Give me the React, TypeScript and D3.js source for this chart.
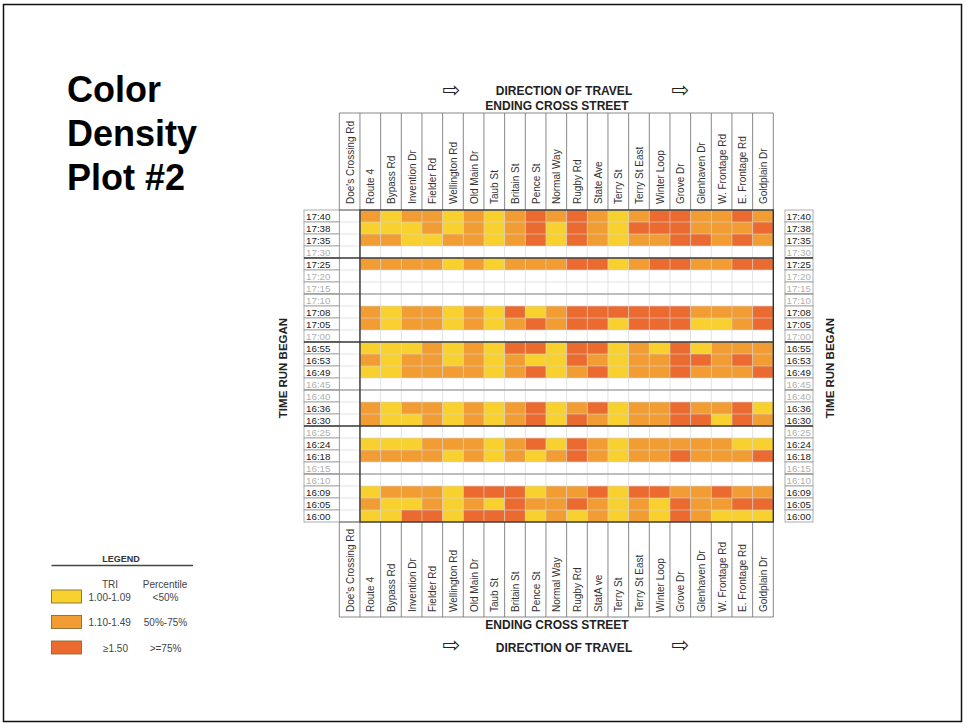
import React from "react";
import * as d3 from "d3";

// ---------- DATA ----------
const streets = [
  "Doe's Crossing Rd", "Route 4", "Bypass Rd", "Invention Dr", "Fielder Rd",
  "Wellington Rd", "Old Main Dr", "Taub St", "Britain St", "Pence St",
  "Normal Way", "Rugby Rd", "State Ave", "Terry St", "Terry St East",
  "Winter Loop", "Grove Dr", "Glenhaven Dr", "W. Frontage Rd",
  "E. Frontage Rd", "Goldplain Dr",
];
const bottomStreets = [
  "Doe's Crossing Rd", "Route 4", "Bypass Rd", "Invention Dr", "Fielder Rd",
  "Wellington Rd", "Old Main Dr", "Taub St", "Britain St", "Pence St",
  "Normal Way", "Rugby Rd", "StatA ve", "Terry St", "Terry St East",
  "Winter Loop", "Grove Dr", "Glenhaven Dr", "W. Frontage Rd",
  "E. Frontage Rd", "Goldplain Dr",
];
const times = [
  "17:40", "17:38", "17:35", "17:30", "17:25", "17:20", "17:15", "17:10",
  "17:08", "17:05", "17:00", "16:55", "16:53", "16:49", "16:45", "16:40",
  "16:36", "16:30", "16:25", "16:24", "16:18", "16:15", "16:10", "16:09",
  "16:05", "16:00",
];
// TRI class per segment (Route 4 .. Goldplain Dr): 1 = 1.00-1.09, 2 = 1.10-1.49, 3 = >=1.50
const tri1740 = [2, 1, 2, 2, 1, 2, 1, 2, 3, 2, 3, 2, 1, 2, 3, 3, 2, 2, 3, 2];
const tri1738 = [1, 1, 1, 2, 1, 2, 1, 2, 3, 1, 3, 2, 1, 3, 3, 3, 2, 2, 2, 3];
const tri1735 = [2, 2, 1, 1, 2, 2, 1, 2, 3, 1, 3, 2, 1, 2, 2, 3, 3, 2, 3, 2];
const tri1725 = [2, 2, 2, 2, 1, 2, 1, 2, 2, 2, 3, 3, 1, 2, 3, 3, 2, 2, 3, 3];
const tri1708 = [2, 1, 2, 2, 1, 2, 1, 3, 1, 2, 3, 3, 3, 3, 3, 3, 2, 2, 2, 3];
const tri1705 = [2, 1, 2, 2, 1, 2, 1, 2, 3, 2, 3, 3, 1, 3, 3, 3, 1, 1, 2, 3];
const tri1655 = [1, 1, 1, 2, 1, 2, 1, 3, 3, 1, 3, 3, 1, 2, 1, 3, 1, 2, 2, 2];
const tri1653 = [2, 1, 2, 2, 1, 2, 1, 2, 1, 1, 3, 2, 1, 2, 2, 3, 3, 2, 3, 2];
const tri1649 = [1, 1, 2, 2, 2, 2, 1, 2, 3, 1, 2, 3, 1, 2, 2, 3, 2, 2, 2, 3];
const tri1636 = [2, 1, 2, 2, 1, 2, 1, 2, 3, 1, 2, 3, 1, 2, 2, 3, 2, 2, 3, 1];
const tri1630 = [2, 1, 1, 2, 1, 2, 1, 2, 3, 1, 3, 2, 1, 2, 2, 3, 3, 1, 3, 2];
const tri1624 = [1, 1, 1, 2, 2, 2, 1, 2, 3, 1, 3, 2, 1, 2, 2, 2, 2, 2, 1, 1];
const tri1618 = [2, 2, 2, 2, 1, 2, 1, 2, 1, 2, 3, 2, 1, 2, 2, 3, 2, 2, 2, 3];
const tri1609 = [1, 2, 2, 2, 1, 3, 3, 3, 1, 2, 2, 3, 1, 3, 3, 2, 2, 3, 2, 2];
const tri1605 = [2, 1, 1, 2, 1, 2, 1, 3, 2, 2, 3, 2, 1, 2, 1, 3, 2, 2, 3, 3];
const tri1600 = [1, 1, 3, 3, 1, 3, 3, 3, 1, 2, 1, 2, 1, 2, 1, 3, 2, 1, 1, 1];

const runs: [string, number[]][] = [
  ["17:40", tri1740], ["17:38", tri1738], ["17:35", tri1735], ["17:25", tri1725],
  ["17:08", tri1708], ["17:05", tri1705], ["16:55", tri1655], ["16:53", tri1653],
  ["16:49", tri1649], ["16:36", tri1636], ["16:30", tri1630], ["16:24", tri1624],
  ["16:18", tri1618], ["16:09", tri1609], ["16:05", tri1605], ["16:00", tri1600],
];

const legendClasses = [1, 2, 3];
const legendTRI = ["1.00-1.09", "1.10-1.49", "\u22651.50"];
const legendPct = ["<50%", "50%-75%", ">=75%"];
const classColors = ["#F9D12E", "#F29D33", "#EB6A2F"];

const FONT = "'Liberation Sans', Arial, Helvetica, sans-serif";

export default function App() {
  const x = d3.scaleBand<string>().domain(streets).range([339.3, 773.3]);
  const y = d3.scaleBand<string>().domain(times).range([210, 522]);
  const color = d3.scaleOrdinal<number, string>().domain(legendClasses).range(classColors);
  const cw = x.bandwidth();
  const rh = y.bandwidth();
  const activeSet = new Set(runs.map((r) => r[0]));
  const gL = x.range()[0];
  const gR = x.range()[1];
  const dataL = x(streets[1])!;
  const colEdges = streets.map((s) => x(s)!).concat([gR]);
  const rowEdges = times.map((t) => y(t)!).concat([y.range()[1]]);
  const darkAfter = ["17:30", "17:00", "16:30"];
  const medAfter = ["17:15", "16:45", "16:15"];

  const lBoxL = 304, lBoxR = gL;
  const rBoxL = 785, rBoxR = 813;

  return (
    <svg
      width={965}
      height={725}
      style={{ position: "absolute", left: 0, top: 0, display: "block", background: "#fff" }}
      fontFamily={FONT}
    >
      <rect x={3.5} y={4.5} width={958} height={717} fill="#fff" stroke="#111" strokeWidth={1.5} />

      {/* Title */}
      <g fontSize={36} fontWeight="bold" fill="#000">
        <text x={67} y={102}>Color</text>
        <text x={67} y={146}>Density</text>
        <text x={67} y={190}>Plot #2</text>
      </g>

      {/* Top headings */}
      <g fontWeight="bold" fill="#222" textAnchor="middle" fontSize={12}>
        <text x={564} y={94.5}>DIRECTION OF TRAVEL</text>
        <text x={557} y={110}>ENDING CROSS STREET</text>
        <text x={557} y={629}>ENDING CROSS STREET</text>
        <text x={564} y={651.5}>DIRECTION OF TRAVEL</text>
      </g>
      <g fontFamily="'DejaVu Sans', sans-serif" fontSize={21} fill="#222" textAnchor="middle">
        <text x={451} y={97}>{"\u21E8"}</text>
        <text x={680} y={97}>{"\u21E8"}</text>
        <text x={451} y={652}>{"\u21E8"}</text>
        <text x={680} y={652}>{"\u21E8"}</text>
      </g>

      {/* Header & footer column boxes */}
      <g stroke="#7a7a7a" strokeWidth={0.9}>
        {colEdges.map((cx, i) => (
          <line key={"ht" + i} x1={cx} x2={cx} y1={113} y2={210} />
        ))}
        <line x1={gL} x2={gR} y1={113} y2={113} />
        {colEdges.map((cx, i) => (
          <line key={"hb" + i} x1={cx} x2={cx} y1={522} y2={617} />
        ))}
        <line x1={gL} x2={gR} y1={617} y2={617} />
      </g>
      <g fontSize={10} fill="#333">
        {streets.map((s) => (
          <text key={"tl" + s} transform={`translate(${x(s)! + cw / 2 + 4},204) rotate(-90)`}>{s}</text>
        ))}
        {bottomStreets.map((s, i) => (
          <text key={"bl" + i} transform={`translate(${x(streets[i])! + cw / 2 + 4},612) rotate(-90)`}>{s}</text>
        ))}
      </g>

      {/* Cells */}
      <g>
        {runs.map(([t, vals]) =>
          vals.map((v, i) => (
            <rect
              key={t + "-" + i}
              x={x(streets[i + 1])!}
              y={y(t)!}
              width={cw}
              height={rh}
              fill={color(v)}
            />
          ))
        )}
      </g>

      {/* Grid lines */}
      <g stroke="#d4d4d4" strokeWidth={0.7} opacity={0.9}>
        {colEdges.map((cx, i) => (
          <line key={"gv" + i} x1={cx} x2={cx} y1={210} y2={522} />
        ))}
        {rowEdges.map((ry, i) => (
          <line key={"gh" + i} x1={gL} x2={gR} y1={ry} y2={ry} />
        ))}
      </g>
      <line x1={gL} x2={gL} y1={210} y2={522} stroke="#888" strokeWidth={0.9} />

      {/* Row label boxes */}
      <g>
        {times.map((t) => {
          const active = activeSet.has(t);
          return (
            <g key={"rl" + t}>
              <rect x={lBoxL} y={y(t)!} width={lBoxR - lBoxL} height={rh} fill="#fff" stroke="#9a9a9a" strokeWidth={0.8} />
              <rect x={rBoxL} y={y(t)!} width={rBoxR - rBoxL} height={rh} fill="#fff" stroke="#9a9a9a" strokeWidth={0.8} />
              <text x={lBoxL + 2} y={y(t)! + rh / 2 + 3.5} fontSize={9.8} fill={active ? "#222" : "#b0b0b0"}>{t}</text>
              <text x={rBoxR - 2} y={y(t)! + rh / 2 + 3.5} fontSize={9.8} textAnchor="end" fill={active ? "#222" : "#b0b0b0"}>{t}</text>
            </g>
          );
        })}
      </g>

      {/* Separator lines */}
      {medAfter.map((t) => {
        const yy = y(t)! + rh;
        return (
          <g key={"m" + t} stroke="#8a8a8a" strokeWidth={1}>
            <line x1={lBoxL} x2={gR} y1={yy} y2={yy} />
            <line x1={rBoxL} x2={rBoxR} y1={yy} y2={yy} />
          </g>
        );
      })}
      {darkAfter.map((t) => {
        const yy = y(t)! + rh;
        return (
          <g key={"d" + t} stroke="#3a3a3a" strokeWidth={1.5}>
            <line x1={lBoxL} x2={gR} y1={yy} y2={yy} />
            <line x1={rBoxL} x2={rBoxR} y1={yy} y2={yy} />
          </g>
        );
      })}
      <rect x={dataL} y={210} width={gR - dataL} height={312} fill="none" stroke="#333" strokeWidth={1.4} />
      <line x1={gL} x2={dataL} y1={210} y2={210} stroke="#555" strokeWidth={1} />
      <line x1={gL} x2={dataL} y1={522} y2={522} stroke="#555" strokeWidth={1} />

      {/* Side titles */}
      <g fontWeight="bold" fontSize={11.5} fill="#222" textAnchor="middle">
        <text transform="translate(287,368) rotate(-90)">TIME RUN BEGAN</text>
        <text transform="translate(834,368) rotate(-90)">TIME RUN BEGAN</text>
      </g>

      {/* Legend */}
      <g>
        <text x={121} y={562} fontSize={9} fontWeight="bold" fill="#333" textAnchor="middle">LEGEND</text>
        <line x1={51.5} x2={193} y1={565.5} y2={565.5} stroke="#444" strokeWidth={1.5} />
        <text x={110} y={588} fontSize={10} fill="#444" textAnchor="middle">TRI</text>
        <text x={165} y={588} fontSize={10} fill="#444" textAnchor="middle">Percentile</text>
        {legendClasses.map((c, i) => {
          const sy = 590 + i * 25.5;
          return (
            <g key={"lg" + c}>
              <rect x={51.5} y={sy} width={30} height={13} fill={color(c)} stroke="#8a6a3a" strokeWidth={0.9} />
              <text x={i < 2 ? 88.5 : 115.5} y={sy + 10.5} fontSize={10} fill="#444" textAnchor={i < 2 ? "start" : "middle"}>{legendTRI[i]}</text>
              <text x={165.5} y={sy + 10.5} fontSize={10} fill="#444" textAnchor="middle">{legendPct[i]}</text>
            </g>
          );
        })}
      </g>
    </svg>
  );
}
